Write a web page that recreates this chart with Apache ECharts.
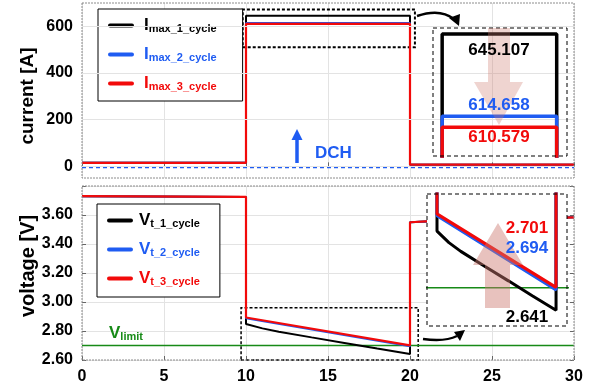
<!DOCTYPE html>
<html>
<head>
<meta charset="utf-8">
<script src="https://cdn.jsdelivr.net/npm/echarts@6/dist/echarts.min.js"></script>
<style>
html, body { margin: 0; padding: 0; background: #fff; }
#chart { width: 589px; height: 388px; }
</style>
</head>
<body>
<div id="chart"></div>
<script>
// ---- data ----
var xTicks = [0, 5, 10, 15, 20, 25, 30];
var curTicks = [0, 200, 400, 600];

// current steps [A]
var curTime = [0, 10, 10, 20, 20, 30];
var iMax1 = [15, 15, 645.107, 645.107, 7, 7];
var iMax2 = [15, 15, 614.658, 614.658, 7, 7];
var iMax3 = [15, 15, 610.579, 610.579, 7, 7];
var dchZero = [[0, -5], [30, -5]];
var iPeak = [645.107, 614.658, 610.579];

// terminal voltage [V]
var vt1 = [[0, 3.73], [10, 3.725], [10, 2.848], [11, 2.818], [12, 2.795], [14, 2.756], [16, 2.718], [18, 2.679], [20, 2.641], [20, 3.55], [21, 3.556], [30, 3.584]];
var vt2 = [[0, 3.73], [10, 3.725], [10, 2.888], [20, 2.694], [20, 3.55], [21, 3.556], [30, 3.584]];
var vt3 = [[0, 3.73], [10, 3.725], [10, 2.893], [20, 2.701], [20, 3.55], [21, 3.556], [30, 3.584]];
var vEnd = [2.641, 2.694, 2.701];
var vLimit = 2.70;

// zoom windows drawn in the main plots
var curBox = [[9.8, 510], [20.3, 672]];
var voltBox = [[9.7, 2.6], [20.5, 2.96]];

var BLACK = '#000000', BLUE = '#1f5cf2', RED = '#f20a0a', GREEN = '#178a17';
var FONT = '"Liberation Sans", Arial, Helvetica, sans-serif';

function pairs(xs, ys) {
  return xs.map(function (x, i) { return [x, ys[i]]; });
}

function lineSeries(name, data, color, width, xi, yi, z) {
  return {
    name: name,
    type: 'line',
    xAxisIndex: xi,
    yAxisIndex: yi,
    data: data,
    showSymbol: false,
    symbol: 'none',
    z: z || 2,
    lineStyle: { color: color, width: width },
    itemStyle: { color: color },
    animation: false,
    silent: true
  };
}

var subs = {
  I1: 'max_1_cycle', I2: 'max_2_cycle', I3: 'max_3_cycle',
  V1: 't_1_cycle', V2: 't_2_cycle', V3: 't_3_cycle'
};
var keyOf = { I1: 'k', I2: 'b', I3: 'r', V1: 'k', V2: 'b', V3: 'r' };

function richSet(gap) {
  var out = {};
  [['k', BLACK], ['b', BLUE], ['r', RED]].forEach(function (c) {
    out[c[0] + 'A'] = { color: c[1], fontSize: 17, fontWeight: 'bold', fontFamily: FONT, verticalAlign: 'bottom', padding: [0, 0, 0, gap] };
    out[c[0] + 'B'] = { color: c[1], fontSize: 11, fontWeight: 'bold', fontFamily: FONT, verticalAlign: 'bottom' };
  });
  return out;
}

function legendFmt(big) {
  return function (name) {
    var k = keyOf[name];
    return '{' + k + 'A|' + big + '}{' + k + 'B|' + subs[name] + '}';
  };
}

var chart = echarts.init(document.getElementById('chart'));

var boldLabel = { fontFamily: FONT, fontWeight: 'bold', fontSize: 16, color: '#000' };
var gridLine = { show: true, lineStyle: { color: '#e3e3e3', width: 1 } };

var option = {
  backgroundColor: '#fff',
  animation: false,
  grid: [
    { left: 82, top: 3, width: 492, height: 175 },
    { left: 82, top: 186, width: 492, height: 174 },
    { left: 433, top: 28, width: 134, height: 128, z: 5 },
    { left: 427, top: 194, width: 140, height: 132, z: 5, show: true, backgroundColor: '#fff', borderWidth: 0 }
  ],
  xAxis: [
    {
      gridIndex: 0, type: 'value', min: 0, max: 30, interval: 5,
      axisLine: { show: false }, axisLabel: { show: false },
      axisTick: { inside: true, length: 4, lineStyle: { color: '#666' } },
      splitLine: gridLine
    },
    {
      gridIndex: 1, type: 'value', min: 0, max: 30, interval: 5,
      axisLine: { show: false },
      axisLabel: Object.assign({ margin: 9 }, boldLabel),
      axisTick: { inside: true, length: 4, lineStyle: { color: '#666' } },
      splitLine: gridLine
    },
    { gridIndex: 2, type: 'value', min: 9.2, max: 20.9, show: false },
    { gridIndex: 3, type: 'value', min: 9.16, max: 20.92, show: false }
  ],
  yAxis: [
    {
      gridIndex: 0, type: 'value', min: -50, max: 700,
      axisLine: { show: false },
      axisLabel: Object.assign({ margin: 9, customValues: curTicks }, boldLabel),
      axisTick: { inside: true, length: 4, customValues: curTicks, lineStyle: { color: '#666' } },
      splitLine: { show: false }
    },
    {
      gridIndex: 1, type: 'value', min: 2.6, max: 3.8, interval: 0.2,
      axisLine: { show: false },
      axisLabel: Object.assign({
        margin: 9,
        formatter: function (v) { return v > 3.7 ? '' : v.toFixed(2); }
      }, boldLabel),
      axisTick: { inside: true, length: 4, lineStyle: { color: '#666' } },
      splitLine: gridLine
    },
    { gridIndex: 2, type: 'value', min: 600, max: 647.3, show: false },
    { gridIndex: 3, type: 'value', min: 2.6, max: 2.945, show: false },
    {
      gridIndex: 0, type: 'value', position: 'right', min: -50, max: 700,
      axisLine: { show: false }, axisLabel: { show: false, customValues: curTicks },
      axisTick: { inside: true, length: 4, customValues: curTicks, lineStyle: { color: '#666' } },
      splitLine: { show: false }
    },
    {
      gridIndex: 1, type: 'value', position: 'right', min: 2.6, max: 3.8, interval: 0.2,
      axisLine: { show: false }, axisLabel: { show: false },
      axisTick: { inside: true, length: 4, lineStyle: { color: '#666' } },
      splitLine: { show: false }
    }
  ],
  legend: [
    {
      data: ['I1', 'I2', 'I3'],
      orient: 'vertical', left: 98, top: 9,
      padding: [8, 26, 9, 10], itemGap: 12,
      itemWidth: 22, itemHeight: 8,
      lineStyle: { width: 4, cap: 'round' },
      itemStyle: { opacity: 0 },
      borderColor: '#000', borderWidth: 1, backgroundColor: '#fff',
      selectedMode: false,
      formatter: legendFmt('I'),
      textStyle: { rich: richSet(7) }
    },
    {
      data: ['V1', 'V2', 'V3'],
      orient: 'vertical', left: 97, top: 204,
      padding: [8, 20, 10, 10], itemGap: 12,
      itemWidth: 22, itemHeight: 8,
      lineStyle: { width: 4, cap: 'round' },
      itemStyle: { opacity: 0 },
      borderColor: '#000', borderWidth: 1, backgroundColor: '#fff',
      selectedMode: false,
      formatter: legendFmt('V'),
      textStyle: { rich: richSet(3) }
    }
  ],
  series: [
    Object.assign(lineSeries('dch', dchZero, BLUE, 1.5, 0, 0, 1), {
      lineStyle: { color: BLUE, width: 1.5, type: [4, 3] },
      markLine: {
        silent: true, symbol: ['none', 'none'], label: { show: false },
        lineStyle: { color: '#e3e3e3', width: 1, type: 'solid' },
        data: curTicks.map(function (v) { return { yAxis: v }; })
      },
      markArea: {
        silent: true,
        itemStyle: { color: 'rgba(0,0,0,0)', borderColor: '#000', borderWidth: 2, borderType: [3, 2] },
        data: [[{ coord: curBox[0] }, { coord: curBox[1] }]]
      }
    }),
    lineSeries('I1', pairs(curTime, iMax1), BLACK, 2, 0, 0),
    lineSeries('I2', pairs(curTime, iMax2), BLUE, 2, 0, 0),
    lineSeries('I3', pairs(curTime, iMax3), RED, 2.2, 0, 0),
    lineSeries('I1', pairs(curTime, iMax1), BLACK, 3.5, 2, 2, 6),
    lineSeries('I2', pairs(curTime, iMax2), BLUE, 3.5, 2, 2, 6),
    lineSeries('I3', pairs(curTime, iMax3), RED, 3.5, 2, 2, 6),

    Object.assign(lineSeries('Vlimit', [[0, vLimit], [30, vLimit]], GREEN, 1.5, 1, 1, 1), {
      markArea: {
        silent: true,
        itemStyle: { color: 'rgba(0,0,0,0)', borderColor: '#000', borderWidth: 1.5, borderType: [3, 2] },
        data: [[{ coord: voltBox[0] }, { coord: voltBox[1] }]]
      }
    }),
    lineSeries('V1', vt1, BLACK, 2, 1, 1),
    lineSeries('V2', vt2, BLUE, 2, 1, 1),
    lineSeries('V3', vt3, RED, 2.2, 1, 1),
    lineSeries('Vlimit', [[0, vLimit], [30, vLimit]], GREEN, 1.5, 3, 3, 6),
    lineSeries('V1', vt1, BLACK, 3, 3, 3, 6),
    lineSeries('V2', vt2, BLUE, 3, 3, 3, 6),
    lineSeries('V3', vt3, RED, 3, 3, 3, 6)
  ],
  graphic: [
    // plot frames
    { type: 'rect', silent: true, z: 3, shape: { x: 82, y: 3, width: 492, height: 175 }, style: { fill: 'none', stroke: '#8c8c8c', lineWidth: 1, lineDash: [2, 1] } },
    { type: 'rect', silent: true, z: 3, shape: { x: 82, y: 186, width: 492, height: 174 }, style: { fill: 'none', stroke: '#8c8c8c', lineWidth: 1, lineDash: [2, 1] } },
    // inset frames
    { type: 'rect', silent: true, z: 7, shape: { x: 433, y: 28, width: 134, height: 128 }, style: { fill: 'none', stroke: '#000', lineWidth: 1, lineDash: [4, 3] } },
    { type: 'rect', silent: true, z: 7, shape: { x: 427, y: 194, width: 140, height: 132 }, style: { fill: 'none', stroke: '#000', lineWidth: 1, lineDash: [4, 3] } },
    // axis titles
    { type: 'text', silent: true, x: 28, y: 96, rotation: Math.PI / 2, style: { text: 'current [A]', fill: '#000', font: 'bold 19px ' + FONT, align: 'center', verticalAlign: 'middle' } },
    { type: 'text', silent: true, x: 28, y: 266, rotation: Math.PI / 2, style: { text: 'voltage [V]', fill: '#000', font: 'bold 20px ' + FONT, align: 'center', verticalAlign: 'middle' } },
    // pink trend arrows
    { type: 'polygon', silent: true, z: 9, shape: { points: [[488, 28], [510, 28], [510, 82], [523, 82], [499, 125], [474, 82], [488, 82]] }, style: { fill: 'rgba(205,120,110,0.32)' } },
    { type: 'polygon', silent: true, z: 9, shape: { points: [[485, 308], [510, 308], [510, 265], [523, 265], [498, 223], [473, 265], [485, 265]] }, style: { fill: 'rgba(205,120,110,0.45)' } },
    // value labels
    { type: 'text', silent: true, z: 10, x: 499, y: 50, style: { text: iPeak[0].toFixed(3), fill: BLACK, font: 'bold 17px ' + FONT, align: 'center', verticalAlign: 'middle' } },
    { type: 'text', silent: true, z: 10, x: 499, y: 105, style: { text: iPeak[1].toFixed(3), fill: BLUE, font: 'bold 17px ' + FONT, align: 'center', verticalAlign: 'middle' } },
    { type: 'text', silent: true, z: 10, x: 499, y: 137, style: { text: iPeak[2].toFixed(3), fill: RED, font: 'bold 17px ' + FONT, align: 'center', verticalAlign: 'middle' } },
    { type: 'text', silent: true, z: 10, x: 527, y: 228, style: { text: vEnd[2].toFixed(3), fill: RED, font: 'bold 17px ' + FONT, align: 'center', verticalAlign: 'middle' } },
    { type: 'text', silent: true, z: 10, x: 527, y: 248, style: { text: vEnd[1].toFixed(3), fill: BLUE, font: 'bold 17px ' + FONT, align: 'center', verticalAlign: 'middle' } },
    { type: 'text', silent: true, z: 10, x: 527, y: 317, style: { text: vEnd[0].toFixed(3), fill: BLACK, font: 'bold 17px ' + FONT, align: 'center', verticalAlign: 'middle' } },
    // DCH marker
    { type: 'line', silent: true, z: 10, shape: { x1: 297, y1: 163, x2: 297, y2: 138 }, style: { stroke: BLUE, lineWidth: 3.5 } },
    { type: 'polygon', silent: true, z: 10, shape: { points: [[297, 129], [291.5, 140], [302.5, 140]] }, style: { fill: BLUE } },
    { type: 'text', silent: true, z: 10, x: 315, y: 153, style: { text: 'DCH', fill: BLUE, font: 'bold 17px ' + FONT, align: 'left', verticalAlign: 'middle' } },
    // V limit label
    {
      type: 'text', silent: true, z: 10, x: 109, y: 342,
      style: {
        text: '{a|V}{b|limit}', align: 'left', verticalAlign: 'bottom',
        rich: {
          a: { fill: GREEN, font: 'bold 17px ' + FONT, verticalAlign: 'bottom' },
          b: { fill: GREEN, font: 'bold 11px ' + FONT, verticalAlign: 'bottom' }
        }
      }
    },
    // curved pointer arrows
    { type: 'bezierCurve', silent: true, z: 10, shape: { x1: 417, y1: 16, cpx1: 440, cpy1: 8, x2: 454, y2: 19 }, style: { stroke: '#000', lineWidth: 2.5, fill: 'none' } },
    { type: 'polygon', silent: true, z: 10, shape: { points: [[459, 26], [449, 18], [460, 14]] }, style: { fill: '#000' } },
    { type: 'bezierCurve', silent: true, z: 10, shape: { x1: 423, y1: 339, cpx1: 445, cpy1: 342, x2: 457, y2: 336 }, style: { stroke: '#000', lineWidth: 2.5, fill: 'none' } },
    { type: 'polygon', silent: true, z: 10, shape: { points: [[465, 330], [454, 332], [460, 341]] }, style: { fill: '#000' } }
  ]
};

chart.setOption(option);
</script>
</body>
</html>
